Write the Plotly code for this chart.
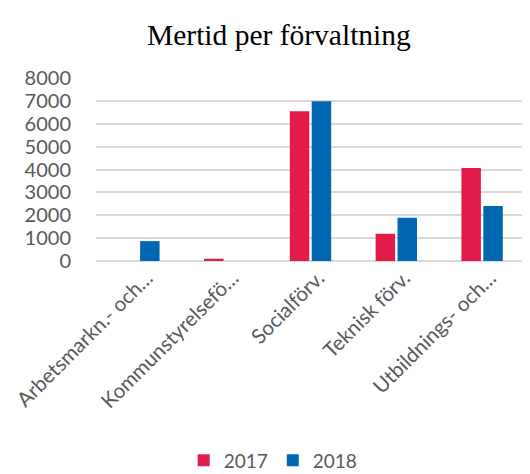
import plotly.graph_objects as go

# ==========================================
# Data
# ==========================================
categories = ["Arbetsmarkn.- och…", "Kommunstyrelsefö…", "Socialförv.", "Teknisk förv.", "Utbildnings- och…"]
values_2017 = [0, 100, 6550, 1190, 4070]
values_2018 = [870, 0, 6980, 1890, 2400]
series_names = ["2017", "2018"]
y_ticks = [0, 1000, 2000, 3000, 4000, 5000, 6000, 7000, 8000]

RED = "#E31B4B"
BLUE = "#0068B2"
GRAY_TEXT = "#595959"

fig = go.Figure()
for name, vals, color in zip(series_names, [values_2017, values_2018], [RED, BLUE]):
    fig.add_trace(go.Bar(
        x=categories,
        y=vals,
        name=name,
        marker=dict(color=color, line=dict(width=0)),
    ))

# the page body has an 8px margin, so the figure is sized 8px smaller
fig.update_layout(
    width=522,
    height=466,
    margin=dict(l=88, r=5, t=70, b=213, autoexpand=False),
    paper_bgcolor="white",
    plot_bgcolor="white",
    barmode="group",
    bargap=0.49,
    bargroupgap=0.11,
    title=dict(
        text="Mertid per förvaltning",
        font=dict(family="Liberation Serif", size=29.5, color="black"),
        x=0.519, xref="container", xanchor="center",
        y=0.942, yref="container", yanchor="middle",
    ),
    font=dict(family="Lato", color=GRAY_TEXT),
    legend=dict(
        orientation="h",
        x=0.508, xref="container", xanchor="center",
        y=-1.09, yref="paper", yanchor="middle",
        font=dict(size=19, color=GRAY_TEXT),
        itemwidth=30,
    ),
    showlegend=True,
)

fig.update_xaxes(
    tickangle=-45,
    tickfont=dict(size=20.5, color=GRAY_TEXT),
    showgrid=False,
    showline=False,
    ticks="",
    ticklabelshift=8,
    automargin=False,
)
fig.update_yaxes(
    range=[0, 8000],
    tickvals=y_ticks,
    tickfont=dict(size=20, color=GRAY_TEXT),
    showgrid=True,
    gridcolor="#D9D9D9",
    gridwidth=1.5,
    zeroline=True,
    zerolinecolor="#D9D9D9",
    zerolinewidth=1.5,
    ticks="",
    ticklabelstandoff=24,
    automargin=False,
)

fig.write_html("out.html")
